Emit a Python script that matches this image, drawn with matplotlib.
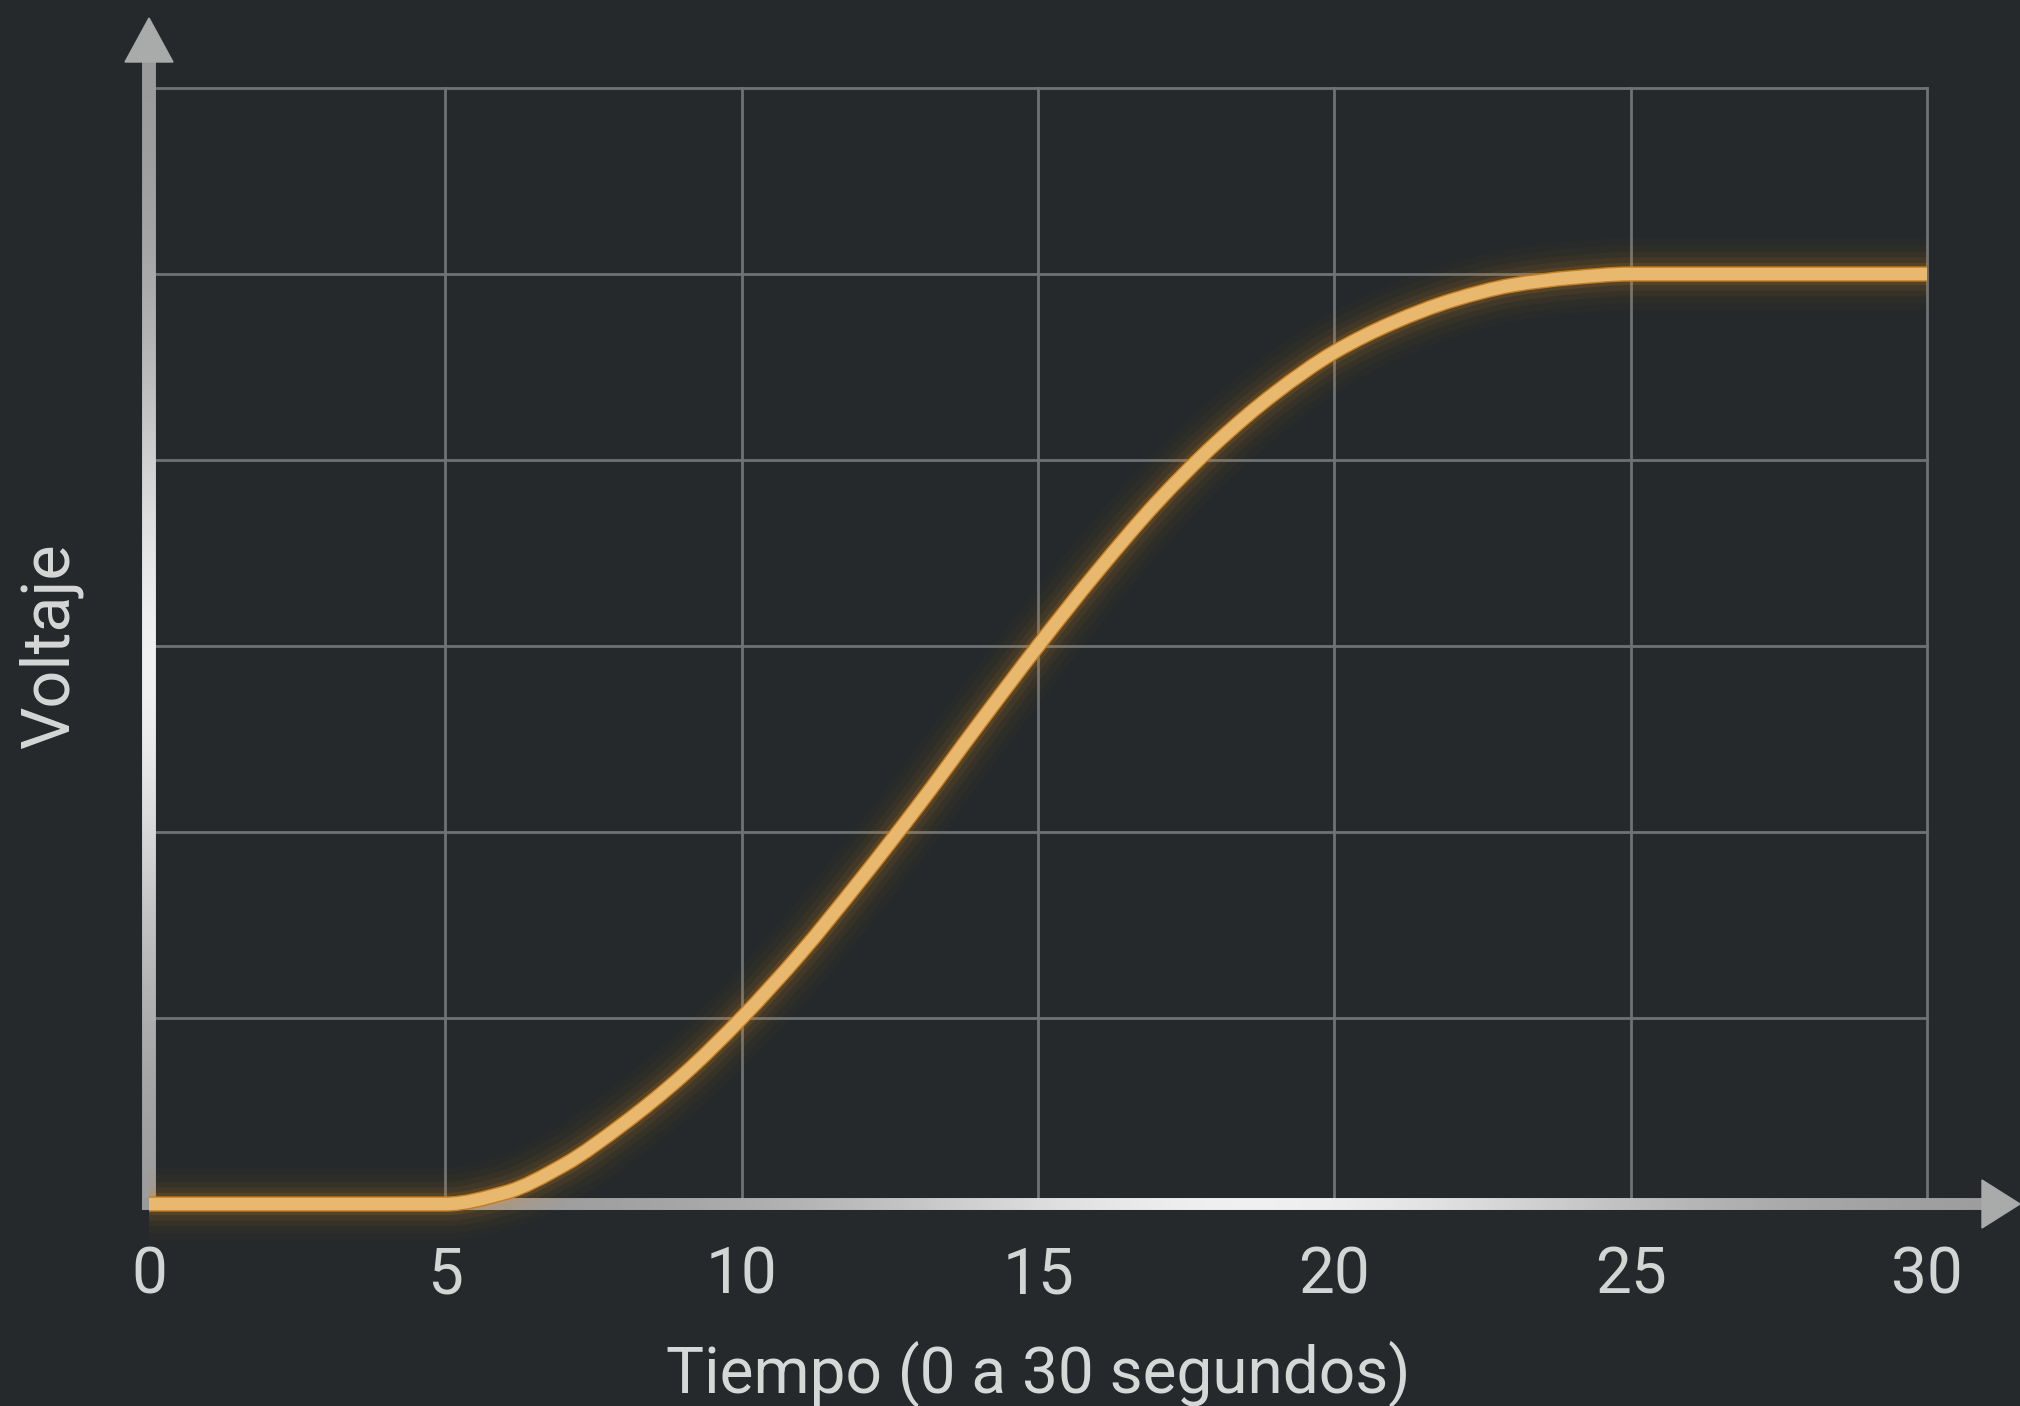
import numpy as np
import matplotlib.pyplot as plt
from matplotlib.collections import LineCollection
from matplotlib.patches import Polygon, PathPatch
from matplotlib.path import Path

plt.rcParams['font.family'] = ['Roboto', 'DejaVu Sans']

# Values, one per second
tiempo = list(range(0, 31))
voltaje = [0, 0, 0, 0, 0, 0, 0.06, 0.21, 0.43, 0.69, 1.00, 1.35, 1.74, 2.15,
           2.58, 3.00, 3.40, 3.77, 4.09, 4.36, 4.58, 4.74, 4.86, 4.94, 4.98,
           5.00, 5.00, 5.00, 5.00, 5.00, 5.00]
x_ticks = [0, 5, 10, 15, 20, 25, 30]
y_grid = [0, 1, 2, 3, 4, 5, 6]
x_label = "Tiempo (0 a 30 segundos)"
y_label = "Voltaje"

bg = "#25292b"
W, H = 2020, 1406
fig = plt.figure(figsize=(W / 100, H / 100), dpi=100, facecolor=bg)
ax = fig.add_axes([149 / W, 202 / H, 1778 / W, 1116 / H])
ax.set_facecolor(bg)
ax.set_xlim(x_ticks[0], x_ticks[-1])
ax.set_ylim(y_grid[0], y_grid[-1])
for s in ax.spines.values():
    s.set_visible(False)

ax.set_xticks(x_ticks)
ax.set_yticks(y_grid)
ax.tick_params(length=0, labelsize=46, colors="#d3d5d5", pad=29)
ax.tick_params(axis="y", labelleft=False)
ax.set_axisbelow(True)
ax.grid(True, color="#6e7274", lw=2)
for gl in ax.get_xgridlines() + ax.get_ygridlines():
    gl.set_clip_on(False)

# size of one pixel in data units
px = (x_ticks[-1] - x_ticks[0]) / 1778
py = (y_grid[-1] - y_grid[0]) / 1116
x0, x1 = x_ticks[0], x_ticks[-1]
y0, y1 = y_grid[0], y_grid[-1]


def shade(s, s_peak, width):
    b = 0.60 + 0.34 * np.exp(-((s - s_peak) / width) ** 2)
    return np.column_stack([b, b, b * 1.005, np.ones_like(b)]).clip(0, 1)


# y axis with light gradient
ys = np.linspace(y0 - 5 * py, y1 + 28 * py, 300)
segs = [[(x0, ys[i]), (x0, ys[i + 1])] for i in range(len(ys) - 1)]
ax.add_collection(LineCollection(segs, colors=shade(ys[:-1], 2.9, 1.6),
                                 linewidths=10, capstyle="butt",
                                 clip_on=False, zorder=2))

# x axis with light gradient
xs = np.linspace(x0 - 7 * px, x1 + 58 * px, 400)
segs = [[(xs[i], y0), (xs[i + 1], y0)] for i in range(len(xs) - 1)]
ax.add_collection(LineCollection(segs, colors=shade(xs[:-1], 18.6, 7.0),
                                 linewidths=8.6, capstyle="butt",
                                 clip_on=False, zorder=2))

# arrow heads
arrow_col = "#a9abab"
ax.add_patch(Polygon([(x0 - 24 * px, y1 + 26 * py), (x0 + 24 * px, y1 + 26 * py),
                      (x0, y1 + 70 * py)], closed=True, color=arrow_col,
                     clip_on=False, zorder=2))
ax.add_patch(Polygon([(x1 + 55 * px, y0 - 24 * py), (x1 + 55 * px, y0 + 24 * py),
                      (x1 + 93 * px, y0)], closed=True, color=arrow_col,
                     clip_on=False, zorder=2))

# smooth path through the read points (monotone cubic as Bezier segments)
t = np.asarray(tiempo, float)
v = np.asarray(voltaje, float)
h = np.diff(t)
d = np.diff(v) / h
m = np.zeros_like(v)
m[0], m[-1] = d[0], d[-1]
for i in range(1, len(v) - 1):
    if d[i - 1] * d[i] > 0:
        m[i] = 2 * d[i - 1] * d[i] / (d[i - 1] + d[i])
verts = [(t[0], v[0])]
codes = [Path.MOVETO]
for i in range(len(t) - 1):
    verts += [(t[i] + h[i] / 3, v[i] + m[i] * h[i] / 3),
              (t[i + 1] - h[i] / 3, v[i + 1] - m[i + 1] * h[i] / 3),
              (t[i + 1], v[i + 1])]
    codes += [Path.CURVE4] * 3
curve = Path(verts, codes)


def stroke(width, color, alpha=1.0):
    ax.add_patch(PathPatch(curve, fill=False, lw=width, edgecolor=color,
                           alpha=alpha, capstyle="butt", joinstyle="round",
                           clip_on=False, zorder=3))


# soft orange glow, then the line itself
for w, a in [(52, 0.02), (42, 0.03), (32, 0.045), (24, 0.07), (16, 0.12)]:
    stroke(w, "#e8901e", a)
stroke(11, "#c47e22")
stroke(9, "#e9b86f")

ax.set_xlabel(x_label, fontsize=46, color="#d6d8d8", labelpad=25)
ax.set_ylabel(y_label, fontsize=48, color="#d6d8d8")
ax.yaxis.set_label_coords(-(149 - 83) / 1778, 0.5)

fig.savefig("out.png", dpi=100, facecolor=bg)
